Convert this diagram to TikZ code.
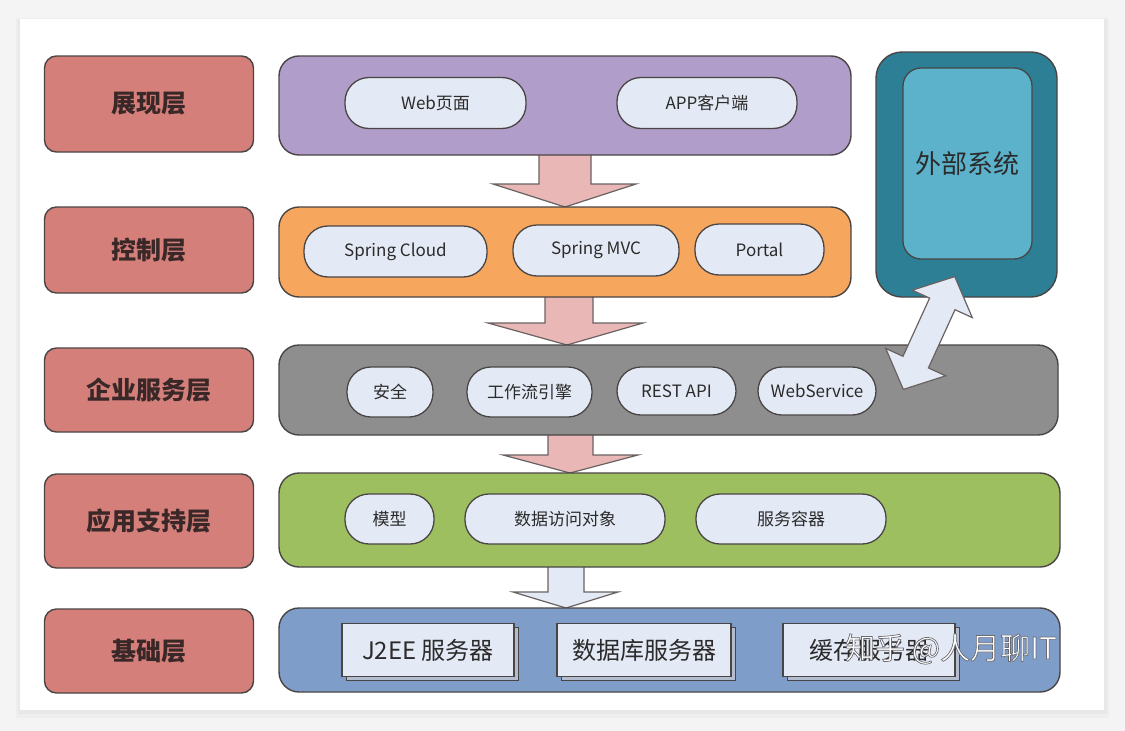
\documentclass[tikz,border=0pt]{standalone}
\usepackage{fontspec}
\setmainfont{Noto Sans CJK SC}
\definecolor{bgc}{HTML}{F4F4F4}
\definecolor{labc}{HTML}{D47F7A}
\definecolor{labtxt}{HTML}{3A2828}
\definecolor{bordc}{HTML}{4A4545}
\definecolor{purc}{HTML}{B19DC9}
\definecolor{orac}{HTML}{F7A65E}
\definecolor{grac}{HTML}{8E8E8E}
\definecolor{grec}{HTML}{9DBF5F}
\definecolor{bluc}{HTML}{7E9DC9}
\definecolor{pillc}{HTML}{E4EAF5}
\definecolor{pinkc}{HTML}{E9B7B5}
\definecolor{arrbord}{HTML}{6A6262}
\definecolor{extout}{HTML}{2C7F95}
\definecolor{extin}{HTML}{5BB2CA}
\definecolor{txtc}{HTML}{2B2B2B}
\definecolor{srvside}{HTML}{B4BDCF}
\newcommand{\wmoutline}[1]{\special{pdf:literal direct 0.42 0.42 0.45 RG 0.7 w 2 Tr}#1\special{pdf:literal direct 0 Tr}}
\begin{document}
\begin{tikzpicture}[x=1pt,y=-1pt,
  layerbox/.style={draw=bordc, line width=1.4pt, fill=labc, rounded corners=12pt,
    minimum width=209pt, inner sep=0pt, text=labtxt,
    font=\bfseries\fontsize{25}{30}\selectfont},
  band/.style={draw=bordc, line width=1.4pt, rounded corners=20pt, inner sep=0pt},
  pill/.style={draw=bordc, line width=1.3pt, fill=pillc, rounded corners=24pt,
    minimum height=51pt, inner sep=0pt, text=txtc, font=\fontsize{17}{20}\selectfont},
  srvbox/.style={draw=bordc, line width=1.2pt, fill=pillc, minimum height=53pt,
    inner sep=0pt, text=txtc, font=\fontsize{24}{28}\selectfont},
  srvshade/.style={draw=bordc, line width=1.2pt, fill=srvside, minimum height=53pt,
    inner sep=0pt},
  blockarr/.style={draw=arrbord, line width=1.2pt, line join=miter},
]
\useasboundingbox (0,0) rectangle (1125,731);
% background and card
\fill[bgc] (0,0) rectangle (1125,731);
\fill[black, opacity=0.025] (16,18) rectangle (1109,718);
\fill[black, opacity=0.025] (18,19) rectangle (1107,714);
\fill[white] (20,19) rectangle (1104,710);

% block arrows between bands (drawn first, bands cover shaft tops)
\draw[blockarr, fill=pinkc] (539,148) -- (539,184) -- (493,184) -- (565,207) -- (636,184) -- (591,184) -- (591,148);
\draw[blockarr, fill=pinkc] (545,290) -- (545,323) -- (488,323) -- (567,345) -- (643,323) -- (593,323) -- (593,290);
\draw[blockarr, fill=pinkc] (548,428) -- (548,455) -- (503,455) -- (570,473) -- (638,455) -- (593,455) -- (593,428);
\draw[blockarr, fill=pillc] (548,560) -- (548,592) -- (513,592) -- (566,608) -- (618,592) -- (584,592) -- (584,560);

% layer labels
\node[layerbox, minimum height=96pt] (l1) at (149,104) {展现层};
\node[layerbox, minimum height=86pt] (l2) at (149,250) {控制层};
\node[layerbox, minimum height=84pt] (l3) at (149,390) {企业服务层};
\node[layerbox, minimum height=94pt] (l4) at (149,521) {应用支持层};
\node[layerbox, minimum height=84pt] (l5) at (149,651) {基础层};

% bands
\node[band, fill=purc, minimum width=572pt, minimum height=99pt] (b1) at (565,105.5) {};
\node[band, fill=orac, minimum width=572pt, minimum height=90pt] (b2) at (565,252) {};
\node[band, fill=grac, minimum width=779pt, minimum height=90pt] (b3) at (668.5,390) {};
\node[band, fill=grec, minimum width=781pt, minimum height=94pt] (b4) at (669.5,520) {};
\node[band, fill=bluc, minimum width=781pt, minimum height=84pt] (b5) at (669.5,650) {};

% external system
\node[draw=bordc, line width=1.4pt, fill=extout, rounded corners=26pt,
      minimum width=181pt, minimum height=245pt, inner sep=0pt] (ext) at (966.5,174.5) {};
\node[draw=bordc, line width=1.3pt, fill=extin, rounded corners=18pt,
      minimum width=129pt, minimum height=191pt, inner sep=0pt,
      text=txtc, font=\fontsize{26}{30}\selectfont] (exti) at (967.5,163.5) {外部系统};

% pills: presentation
\node[pill, minimum width=181pt] (web) at (435.5,103) {Web页面};
\node[pill, minimum width=180pt] (app) at (707,103) {APP客户端};
% control
\node[pill, minimum width=183pt] (sc) at (395.5,251.5) {Spring Cloud};
\node[pill, minimum width=166pt] (mvc) at (596,250.5) {Spring MVC};
\node[pill, minimum width=129pt] (portal) at (759.5,249.5) {Portal};
% enterprise services
\node[pill, minimum width=86pt, minimum height=50pt] (sec) at (390,392) {安全};
\node[pill, minimum width=125pt, minimum height=50pt] (wf) at (529.5,392) {工作流引擎};
\node[pill, minimum width=119pt, minimum height=48pt] (rest) at (676.5,391) {REST API};
\node[pill, minimum width=118pt, minimum height=48pt] (ws) at (817,391) {WebService};
% application support
\node[pill, minimum width=89pt, minimum height=50pt] (model) at (389.5,519) {模型};
\node[pill, minimum width=200pt, minimum height=50pt] (dao) at (565,519) {数据访问对象};
\node[pill, minimum width=190pt, minimum height=50pt] (svc) at (791,519) {服务容器};
% infrastructure (extruded side first, then front face)
\node[srvshade, minimum width=172pt] (j2ees) at (432.5,654) {};
\node[srvshade, minimum width=174pt] (dbs) at (648.5,654) {};
\node[srvshade, minimum width=172pt] (caches) at (873.5,654) {};
\node[srvbox, minimum width=172pt] (j2ee) at (428,650) {J2EE 服务器};
\node[srvbox, minimum width=174pt] (db) at (644,650) {数据库服务器};
\node[srvbox, minimum width=172pt] (cache) at (869,650) {缓存服务器};

% double block arrow between enterprise service layer and external system
\draw[blockarr, fill=pillc] (954.7,276.6) -- (972.3,317.6) -- (955.0,309.7) -- (928.4,367.9)
  -- (945.7,375.8) -- (903.3,389.4) -- (885.7,348.4) -- (903.0,356.3) -- (929.6,298.1)
  -- (912.3,290.2) -- cycle;

% watermark
\node[text=white, font=\fontsize{30}{32}\selectfont, inner sep=0pt] (wm) at (951,649) {\wmoutline{知乎 @人月聊IT}};
\end{tikzpicture}
\end{document}
